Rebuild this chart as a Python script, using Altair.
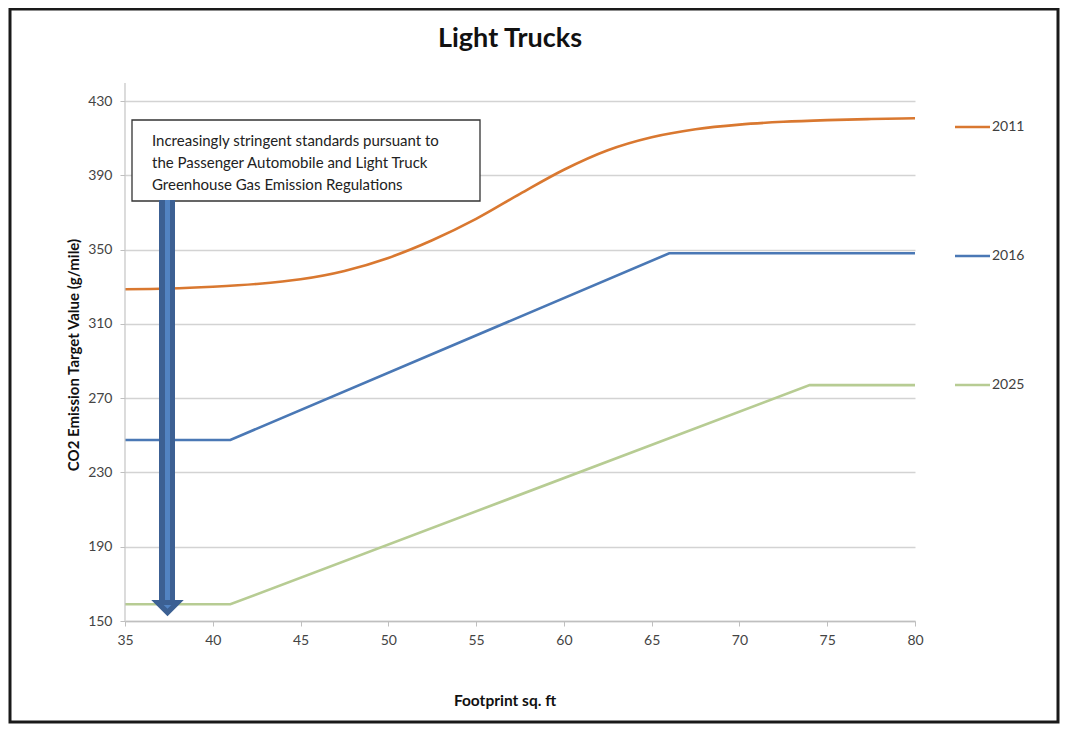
import altair as alt
import pandas as pd

# ---------------- data ----------------
series_names = ["2011", "2016", "2025"]
series_colors = ["#D97830", "#4A78B5", "#B7CC93"]

fp_2011 = [35, 37.5, 40, 42.5, 45, 47.5, 50, 52.5, 55, 57.5, 60, 62.5, 65, 67.5, 70, 72.5, 75, 77.5, 80]
co2_2011 = [328.6, 329.0, 330.0, 331.5, 334.0, 338.5, 345.5, 355.0, 366.5, 380.0, 393.0, 403.5,
            410.5, 414.8, 417.3, 418.8, 419.7, 420.3, 420.7]

fp_2016 = [35, 41, 66, 80]
co2_2016 = [247.5, 247.5, 348.0, 348.0]

fp_2025 = [35, 41, 74, 80]
co2_2025 = [159.0, 159.0, 277.0, 277.0]

x_ticks = [35, 40, 45, 50, 55, 60, 65, 70, 75, 80]
y_ticks = [150, 190, 230, 270, 310, 350, 390, 430]

note_lines = ["Increasingly stringent standards pursuant to",
              "the Passenger Automobile and Light Truck",
              "Greenhouse Gas Emission Regulations"]

title_text = "Light Trucks"
x_title = "Footprint sq. ft"
y_title = "CO2 Emission Target Value (g/mile)"

# ---------------- tables ----------------
FONT = "Lato"
W, H = 790, 520

one = pd.DataFrame({"k": [0]})

x_enc = alt.X("footprint:Q",
              scale=alt.Scale(domain=[35, 80], nice=False, zero=False),
              axis=alt.Axis(values=x_ticks, title=None, grid=False, labelFont=FONT, labelFontSize=14,
                            labelColor="#444444", tickColor="#BFBFBF", tickSize=5, labelPadding=7,
                            labelFlush=False, domainColor="#BFBFBF", domainWidth=1.5))
y_enc = alt.Y("co2:Q",
              scale=alt.Scale(domain=[150, 430], nice=False, zero=False),
              axis=alt.Axis(values=y_ticks, title=None, grid=True, gridColor="#D3D3D3", gridWidth=1.6,
                            domain=False, labelFont=FONT, labelFontSize=14, labelColor="#444444",
                            labelFlush=False, tickColor="#BFBFBF", tickSize=5, labelPadding=8))
color_scale = alt.Scale(domain=series_names, range=series_colors)

df_2011 = pd.DataFrame({"series": "2011", "footprint": fp_2011, "co2": co2_2011})
rows = []
for name, xs, ys in zip(series_names[1:], [fp_2016, fp_2025], [co2_2016, co2_2025]):
    for xv, yv in zip(xs, ys):
        rows.append({"series": name, "footprint": xv, "co2": yv})
df_lin = pd.DataFrame(rows)

frame = alt.Chart(one).mark_rect(fill=None, stroke="#1a1a1a", strokeWidth=3).encode(
    x=alt.value(-115), x2=alt.value(933), y=alt.value(-92), y2=alt.value(621)
)

line_2011 = alt.Chart(df_2011).mark_line(strokeWidth=2.6, interpolate="monotone").encode(
    x=x_enc, y=y_enc,
    color=alt.Color("series:N", scale=color_scale, legend=None),
)
lines_other = alt.Chart(df_lin).mark_line(strokeWidth=2.6).encode(
    x=x_enc, y=y_enc,
    color=alt.Color("series:N", scale=color_scale, legend=None),
    detail="series:N",
)

yaxis_line = alt.Chart(one).mark_rule(color="#C4C4C4", strokeWidth=1.2).encode(
    x=alt.value(0), y=alt.value(-18), y2=alt.value(H)
)

# annotation box
box = alt.Chart(one).mark_rect(fill="white", stroke="#333333", strokeWidth=1.3).encode(
    x=alt.value(7), x2=alt.value(355), y=alt.value(19), y2=alt.value(100)
)
note_df = pd.DataFrame({"t": note_lines, "i": list(range(len(note_lines)))})
note_df["py"] = 40 + note_df["i"] * 22.2
note_text = alt.Chart(note_df).mark_text(font=FONT, fontSize=15, color="#222222", align="left",
                                         baseline="middle").encode(
    text="t:N", x=alt.value(27), y=alt.Y("py:Q", scale=None)
)

# arrow
shaft_outer = alt.Chart(one).mark_rect(fill="#3C6093").encode(
    x=alt.value(34), x2=alt.value(50), y=alt.value(99), y2=alt.value(500)
)
shaft_inner = alt.Chart(one).mark_rect(fill="#5283C2").encode(
    x=alt.value(40), x2=alt.value(45), y=alt.value(99), y2=alt.value(505)
)
head = alt.Chart(one).mark_point(shape="M-1,0L1,0L0,1Z", size=1060, filled=True, fill="#3C6093",
                                 opacity=1, strokeWidth=0).encode(
    x=alt.value(42.5), y=alt.value(499)
)
head_inner = alt.Chart(one).mark_point(shape="M-1,0L1,0L0,1Z", size=60, filled=True, fill="#5283C2",
                                       opacity=1, strokeWidth=0).encode(
    x=alt.value(42.5), y=alt.value(504)
)

# legend
leg_df = pd.DataFrame({"series": series_names, "col": series_colors, "py": [26, 155, 284]})
leg_lines = alt.Chart(leg_df).mark_rule(strokeWidth=2.6).encode(
    x=alt.value(830), x2=alt.value(865), y=alt.Y("py:Q", scale=None),
    color=alt.Color("col:N", scale=None)
)
leg_text = alt.Chart(leg_df).mark_text(font=FONT, fontSize=14, color="#404040", align="left",
                                       baseline="middle").encode(
    text="series:N", x=alt.value(867), y=alt.Y("py:Q", scale=None)
)

# titles
title = alt.Chart(pd.DataFrame({"t": [title_text]})).mark_text(
    font=FONT, fontSize=27, fontWeight="bold", color="#111111", align="center", baseline="alphabetic"
).encode(text="t:N", x=alt.value(385), y=alt.value(-54))

xt = alt.Chart(pd.DataFrame({"t": [x_title]})).mark_text(
    font=FONT, fontSize=15.5, fontWeight="bold", color="#111111", align="center", baseline="middle"
).encode(text="t:N", x=alt.value(380), y=alt.value(600))

yt = alt.Chart(pd.DataFrame({"t": [y_title]})).mark_text(
    font=FONT, fontSize=15, fontWeight="bold", color="#111111", align="center", baseline="middle", angle=270
).encode(text="t:N", x=alt.value(-51), y=alt.value(254))

chart = alt.layer(
    frame, line_2011, lines_other, yaxis_line, box, note_text, shaft_outer, shaft_inner, head, head_inner,
    leg_lines, leg_text, title, xt, yt
).properties(
    width=W, height=H,
    padding={"left": 117, "top": 93, "right": 147, "bottom": 104},
    autosize=alt.AutoSizeParams(type="none"),
    background="white",
).configure_view(stroke=None)

chart.save("out.html", embed_options={"renderer": "svg", "actions": False})
